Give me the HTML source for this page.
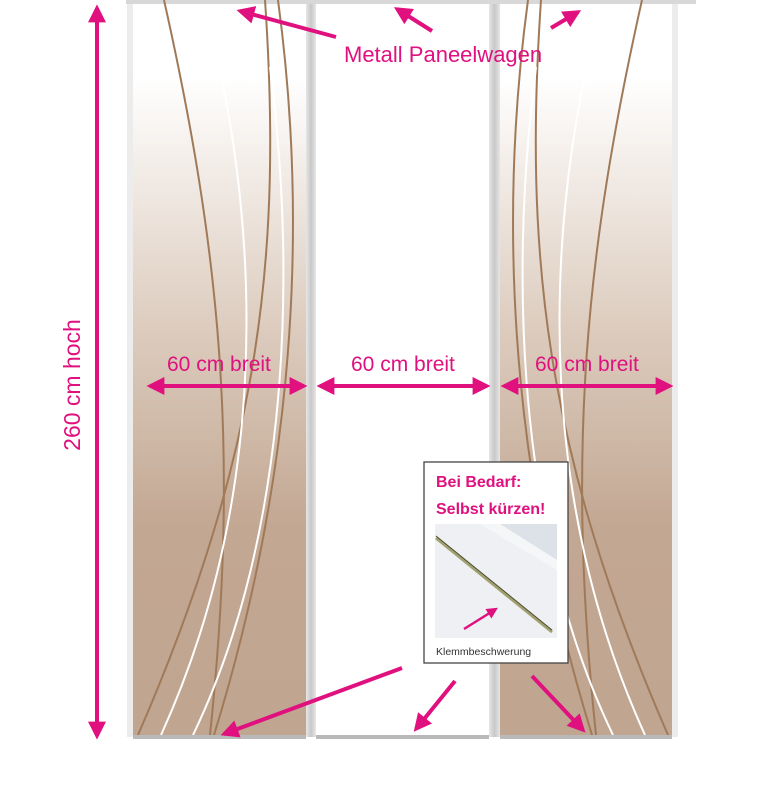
<!DOCTYPE html>
<html><head><meta charset="utf-8"><style>
html,body{margin:0;padding:0;background:#fff;width:768px;height:788px;overflow:hidden}
svg{display:block}
text{font-family:"Liberation Sans",sans-serif}
</style></head><body>
<svg width="768" height="788" viewBox="0 0 768 788" xmlns="http://www.w3.org/2000/svg">
<defs>
<linearGradient id="tan" x1="0" y1="0" x2="0" y2="1">
<stop offset="0" stop-color="#ffffff"/>
<stop offset="0.1" stop-color="#ffffff"/>
<stop offset="0.45" stop-color="#dccbbd"/>
<stop offset="0.72" stop-color="#c2a792"/>
<stop offset="1" stop-color="#c0a590"/>
</linearGradient>
<linearGradient id="sh" x1="0" y1="0" x2="1" y2="0">
<stop offset="0" stop-color="#e6e6e6"/><stop offset="0.5" stop-color="#c8c8c8"/><stop offset="1" stop-color="#e6e6e6"/>
</linearGradient>
<clipPath id="lp"><rect x="133" y="0" width="173" height="735"/></clipPath>
<marker id="ah" viewBox="0 0 10 10" refX="8" refY="5" markerWidth="4.5" markerHeight="4.5" orient="auto-start-reverse" markerUnits="strokeWidth">
<path d="M0,0 L10,5 L0,10 Z" fill="#e0107f"/></marker>
</defs>
<rect x="126" y="0" width="570" height="4" fill="#d8d8d8"/>
<rect x="306" y="4" width="10" height="733" fill="url(#sh)"/>
<rect x="489" y="4" width="11" height="733" fill="url(#sh)"/>
<rect x="127" y="4" width="6" height="733" fill="#ececec"/>
<rect x="672" y="4" width="6" height="733" fill="#ececec"/>
<rect x="133" y="4" width="173" height="731" fill="url(#tan)"/>
<rect x="316" y="4" width="173" height="731" fill="#fff"/>
<rect x="500" y="4" width="172" height="731" fill="url(#tan)"/>
<rect x="133" y="735" width="173" height="4" fill="#b9b9b9"/>
<rect x="316" y="735" width="173" height="4" fill="#b9b9b9"/>
<rect x="500" y="735" width="172" height="4" fill="#b9b9b9"/>
<g id="curves" clip-path="url(#lp)" fill="none" stroke-width="2">
<path d="M164,0 C220,250 240,450 210,735" stroke="#a07a58"/>
<path d="M265,0 C282,250 262,450 138,735" stroke="#a07a58"/>
<path d="M278,0 C305,200 302,450 214,735" stroke="#a07a58"/>
<path d="M220,70 C258,250 268,500 161,735" stroke="#fff"/>
<path d="M270,67 C300,300 282,550 193,735" stroke="#fff"/>
</g>
<g transform="translate(806,0) scale(-1,1)"><use href="#curves"/></g>
<g stroke="#e0107f" stroke-width="4" fill="none" marker-end="url(#ah)">
<line x1="336" y1="37" x2="240" y2="11"/>
<line x1="432" y1="31" x2="397" y2="9"/>
<line x1="551" y1="28" x2="578" y2="12"/>
<line x1="150" y1="386" x2="304" y2="386" marker-start="url(#ah)"/>
<line x1="320" y1="386" x2="487" y2="386" marker-start="url(#ah)"/>
<line x1="504" y1="386" x2="670" y2="386" marker-start="url(#ah)"/>
<line x1="97" y1="8" x2="97" y2="736" marker-start="url(#ah)"/>
<line x1="402" y1="668" x2="224" y2="734"/>
<line x1="455" y1="681" x2="416" y2="729"/>
<line x1="532" y1="676" x2="583" y2="730"/>
</g>
<text x="344" y="62" font-size="22" fill="#e0107f">Metall Paneelwagen</text>
<text x="167" y="371" font-size="21" fill="#e0107f">60 cm breit</text>
<text x="351" y="371" font-size="21" fill="#e0107f">60 cm breit</text>
<text x="535" y="371" font-size="21" fill="#e0107f">60 cm breit</text>
<text transform="translate(80,385) rotate(-90)" text-anchor="middle" font-size="23" fill="#e0107f">260 cm hoch</text>
<rect x="424" y="462" width="144" height="201" fill="#fff" stroke="#444" stroke-width="1.3"/>
<text x="436" y="487" font-size="16" font-weight="bold" fill="#e0107f">Bei Bedarf:</text>
<text x="436" y="514" font-size="16" font-weight="bold" fill="#e0107f">Selbst kürzen!</text>
<rect x="435" y="524" width="122" height="114" fill="#eef0f3"/>
<polygon points="435,524 557,524 557,570 480,524" fill="#f5f6f8"/>
<polygon points="500,524 557,524 557,560" fill="#dde1e8"/>
<line x1="436" y1="538" x2="552" y2="632" stroke="#a0a070" stroke-width="3"/>
<line x1="436" y1="536" x2="552" y2="630" stroke="#4a4a30" stroke-width="1"/>
<line x1="464" y1="629" x2="496" y2="609" stroke="#e0107f" stroke-width="2.5" marker-end="url(#ah)"/>
<text x="436" y="655" font-size="10.5" fill="#333">Klemmbeschwerung</text>
</svg>
</body></html>
